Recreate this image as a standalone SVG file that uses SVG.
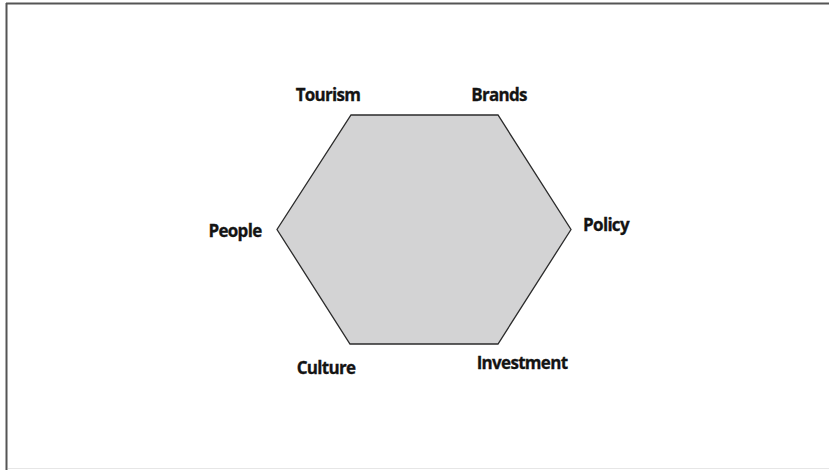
<svg xmlns="http://www.w3.org/2000/svg" width="829" height="470" viewBox="0 0 829 470">
  <style>
    .lbl { font-family: "Open Sans", "Liberation Sans", sans-serif; font-weight: bold; font-size: 17px; fill: #141414; letter-spacing: -0.7px; text-anchor: middle; stroke: #141414; stroke-width: 0.3; }
    .hex { fill: #d3d3d4; stroke: #2b2b2b; stroke-width: 1.3; stroke-linejoin: miter; }
  </style>
  <rect x="0" y="0" width="829" height="470" fill="#ffffff"/>
  <!-- outer frame -->
  <g id="frame" fill="none">
    <line x1="6.5" y1="3" x2="6.5" y2="470" stroke="#555" stroke-width="2"/>
    <line x1="6" y1="3.5" x2="829" y2="3.5" stroke="#555" stroke-width="2"/>
    <line x1="8" y1="468.5" x2="829" y2="468.5" stroke="#e6e6e6" stroke-width="1"/>
  </g>
  <g id="connectors"></g>
  <g id="hexagon">
    <polygon class="hex" points="351,115 498,115 571,229.5 498,344 350,344 277,229.5"/>
  </g>
  <g id="tourism"><text class="lbl" x="328" y="101">Tourism</text></g>
  <g id="brands"><text class="lbl" x="499" y="101">Brands</text></g>
  <g id="people"><text class="lbl" x="235" y="237">People</text></g>
  <g id="policy"><text class="lbl" x="606" y="231">Policy</text></g>
  <g id="culture"><text class="lbl" x="326" y="374">Culture</text></g>
  <g id="investment"><text class="lbl" x="522" y="369">Investment</text></g>
</svg>
